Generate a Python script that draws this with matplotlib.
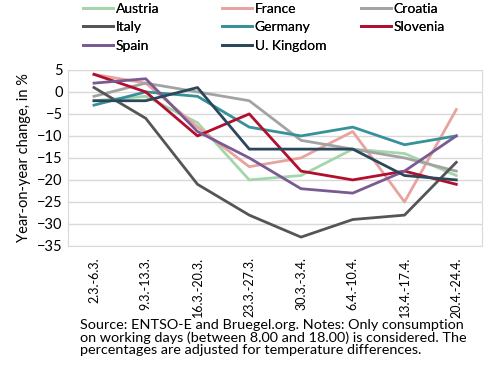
import matplotlib
matplotlib.use("Agg")
import matplotlib.pyplot as plt

plt.rcParams['font.family'] = ['Lato', 'DejaVu Sans']

weeks = ['2.3.-6.3.', '9.3.-13.3.', '16.3.-20.3.', '23.3.-27.3.',
         '30.3.-3.4.', '6.4.-10.4.', '13.4.-17.4.', '20.4.-24.4.']

austria = [-2, -1, -7, -20, -19, -13, -14, -19]
france = [4, 2, -8, -17, -15, -9, -25, -4]
croatia = [-1, 2, 0, -2, -11, -13, -15, -18]
italy = [1, -6, -21, -28, -33, -29, -28, -16]
germany = [-3, 0, -1, -8, -10, -8, -12, -10]
slovenia = [4, 0, -10, -5, -18, -20, -18, -21]
spain = [2, 3, -9, -15, -22, -23, -18, -10]
uk = [-2, -2, 1, -13, -13, -13, -19, -20]

series = [
    ('Austria', austria, '#a3d6a8'),
    ('France', france, '#e8a39e'),
    ('Croatia', croatia, '#a3a3a3'),
    ('Italy', italy, '#555555'),
    ('Germany', germany, '#37919a'),
    ('Slovenia', slovenia, '#b20e2e'),
    ('Spain', spain, '#7a5a92'),
    ('U. Kingdom', uk, '#2b475c'),
]

fig = plt.figure(figsize=(4.9, 3.76), dpi=100)
ax = fig.add_axes([0.139, 0.346, 0.845, 0.468])

x = list(range(len(weeks)))
lines = {}
for name, vals, col in series:
    lines[name], = ax.plot(x, vals, color=col, lw=2, label=name)

ax.set_xlim(-0.5, len(weeks) - 0.5)
ax.set_ylim(-35, 5)
ax.set_yticks(range(-35, 6, 5))
ax.set_xticks(x)
ax.set_xticklabels(weeks, rotation=90, fontsize=9)
ax.tick_params(axis='y', labelsize=10.5, length=0, pad=4)
ax.tick_params(axis='x', length=0, pad=8)
ax.grid(axis='y', color='#d9d9d9', lw=1)
ax.set_axisbelow(True)
for s in ax.spines.values():
    s.set_color('#d9d9d9')
ax.set_ylabel('Year-on-year change, in %', fontsize=10.5, labelpad=4)

# legend laid out like Excel: three fixed-width columns
columns = [['Austria', 'Italy', 'Spain'],
           ['France', 'Germany', 'U. Kingdom'],
           ['Croatia', 'Slovenia']]
col_x = [83, 222, 361]
for names, px in zip(columns, col_x):
    leg = fig.legend([lines[n] for n in names], names, loc='upper left',
                     bbox_to_anchor=(px / 490, 1 - 3 / 376), frameon=False,
                     fontsize=10, handlelength=2.15, handletextpad=0.2,
                     labelspacing=0.45, borderpad=0, borderaxespad=0)
    fig.add_artist(leg)

fig.text(0.163, 1 - 319 / 376,
         'Source: ENTSO-E and Bruegel.org. Notes: Only consumption\n'
         'on working days (between 8.00 and 18.00) is considered. The\n'
         'percentages are adjusted for temperature differences.',
         fontsize=10.4, va='top', ha='left', linespacing=1.02)

fig.savefig('out.png', dpi=100)
